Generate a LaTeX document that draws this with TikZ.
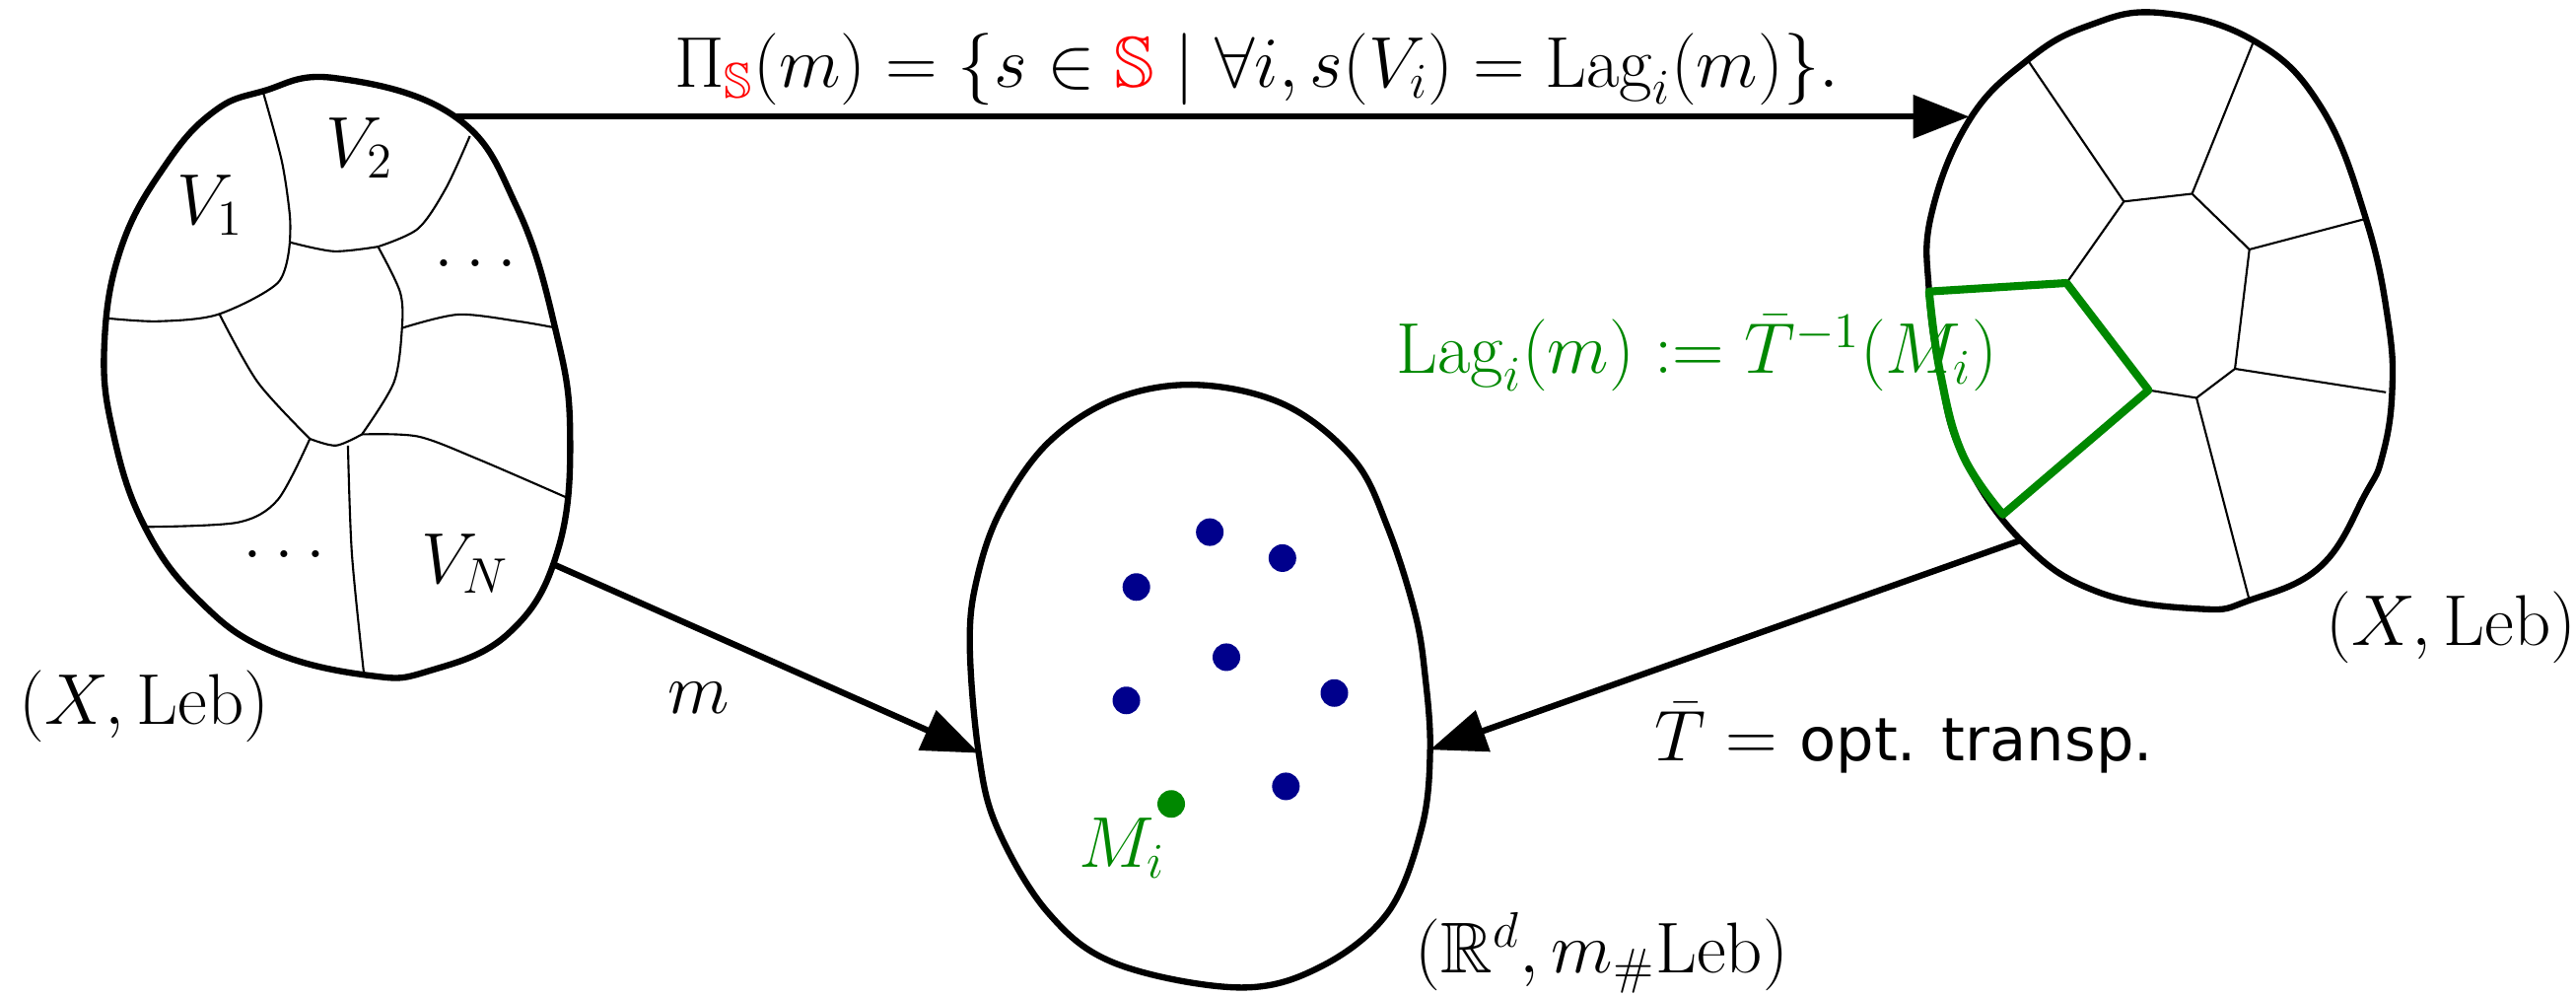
\documentclass[tikz,border=0pt]{standalone}
\usepackage{amsmath,amssymb}
\usepackage{fontspec}
\usepackage{tikz}
\usetikzlibrary{arrows.meta,positioning,calc}
\newfontfamily\sansopt{DejaVu Sans}
\definecolor{dotnavy}{RGB}{0,0,140}
\definecolor{laggreen}{RGB}{0,136,0}

\begin{document}
\begin{tikzpicture}[x=0.016665cm,y=-0.016665cm,
    every node/.style={font=\huge},
    blob/.style={line width=1.8pt},
    cell/.style={line width=0.6pt},
    lagcell/.style={line width=2.3pt,laggreen,line join=round},
    maparrow/.style={line width=1.8pt,-{Triangle[length=0.57cm,width=0.43cm]}},
    atom/.style={circle,inner sep=0pt,minimum size=0.28cm}]
    \useasboundingbox (0,0) rectangle (1568,606);

    % left domain with the cells V_i
    \draw[blob] plot[smooth cycle,tension=0.7] coordinates {(204,47.5) (277,71) (314.6,126) (338,200) (347,263) (339.5,335) (310,385) (261,408.3) (224.6,411) (164.6,396) (121.8,366) (88.5,321.3) (69,264) (63.5,210) (74,150) (101,100) (130,68) (160,55.5)};
    \draw[cell] plot[smooth] coordinates {(160,55.5) (171.5,97.9) (176.4,130.9) (176.4,147.4)};
    \draw[cell] plot[smooth] coordinates {(176.4,147.4) (203.2,152.9) (230.1,150.1)};
    \draw[cell] plot[smooth] coordinates {(230.1,150.1) (254.5,139.1) (271.5,114.4) (286,82.8)};
    \draw[cell] plot[smooth] coordinates {(176.4,147.4) (169.1,172.1) (132.5,191.4) (95.9,195.5) (64.5,193.6)};
    \draw[cell] plot[smooth] coordinates {(133.7,191.4) (156.9,232.6) (188.6,267)};
    \draw[cell] plot[smooth] coordinates {(188.6,267) (204.5,271.1) (220.3,264.3)};
    \draw[cell] plot[smooth] coordinates {(230.1,150.1) (243.5,177.6) (244.7,199.6) (239.8,232.6) (220.3,264.3)};
    \draw[cell] plot[smooth] coordinates {(244.7,199.6) (278.8,191.4) (315.4,195.5) (339,199.6)};
    \draw[cell] plot[smooth] coordinates {(220.3,264.3) (254.5,265.6) (291,279.4) (345,302.8)};
    \draw[cell] plot[smooth] coordinates {(188.6,267) (169.1,304.1) (144.7,317.9) (89.8,320.6)};
    \draw[cell] plot[smooth] coordinates {(211.8,271.1) (214.2,337.1) (221.5,410)};
    \node (V1) at (128,125) {$V_1$};
    \node (V2) at (219,90) {$V_2$};
    \node (Vdots) at (293,160) {$\dots$};
    \node (Wdots) at (177,337) {$\dots$};
    \node (VN) at (283,343) {$V_N$};
    \node (Xleft) at (88,430) {$(X,\mathrm{Leb})$};
    \coordinate (leftout) at (277,71);
    \coordinate (leftdown) at (336,343);

    % target space with the atoms M_i
    \draw[blob] plot[smooth cycle,tension=0.6] coordinates {(729,234.2) (782.7,246.6) (824.1,279.7) (844.7,321) (861.2,372.7) (867.4,410.7) (870.5,456.2) (865.4,503.7) (844.7,555.4) (803.4,588.5) (753.8,600.9) (679.4,586.4) (638,555.4) (607,503.7) (595.7,458.2) (590.3,392) (594.7,352) (609.1,310.7) (638,269.4) (679.4,242.5)};
    \foreach \px/\py in {736.4/323.8, 780.6/339.6, 691.7/357.2, 746.5/399.9, 685.6/426.2, 812.2/421.7, 782.7/478.5}
        \node[atom,fill=dotnavy] at (\px,\py) {};
    \node[atom,fill=laggreen] (Mdot) at (712.9,489.2) {};
    \node[laggreen] (Mi) at (683,516) {$M_i$};
    \node (Rd) at (975,580) {$(\mathbb{R}^d,m_\#\mathrm{Leb})$};
    \coordinate (midleft) at (595.7,458.2);
    \coordinate (midright) at (870.5,456.2);

    % right domain with the Laguerre cells
    \draw[blob] plot[smooth cycle,tension=0.7] coordinates {(1314.6,7.8) (1371.9,24.8) (1412.8,65.2) (1440.1,133.1) (1453.7,195.7) (1456,240) (1450,278) (1440.1,300) (1412.8,344.4) (1369.2,365.3) (1339.2,370.5) (1276.5,360) (1230.1,328.7) (1194.6,276.6) (1181,227) (1174.2,177.4) (1175.6,130.5) (1198.7,73.1) (1234.2,36.5) (1271,15.7)};
    \coordinate (cA) at (1292.8,122.6);
    \coordinate (cB) at (1334.3,117.9);
    \coordinate (cC) at (1369.2,151.8);
    \coordinate (cD) at (1360.4,224.4);
    \coordinate (cE) at (1337,242.1);
    \coordinate (cF) at (1307.8,237.4);
    \coordinate (cG) at (1257.9,172.2);
    \draw[cell] (cF) -- (cE) -- (cD) -- (cC) -- (cB) -- (cA) -- (cG);
    \draw[cell] (cA) -- (1234.2,36.5);
    \draw[cell] (cB) -- (1371.9,24.8);
    \draw[cell] (cC) -- (1440.1,133.1);
    \draw[cell] (cD) -- (1452.3,238.7);
    \draw[cell] (cE) -- (1369.2,365.3);
    \draw[lagcell] plot[smooth,tension=0.7] coordinates {(1219.2,313.1) (1194.6,276.6) (1181,227) (1174.2,177.4)} -- (cG) -- (cF) -- cycle;
    \node[laggreen] (Lag) at (1033,215) {$\mathrm{Lag}_i(m):=\bar{T}^{-1}(M_i)$};
    \node (Xright) at (1492,382) {$(X,\mathrm{Leb})$};
    \coordinate (rightin) at (1198.7,71);
    \coordinate (rightdown) at (1230.1,328.7);

    % maps between the spaces
    \draw[maparrow] (leftout) -- (rightin);
    \node (Pi) at (765,42) {$\Pi_{\color{red}\mathbb{S}}(m)=\{s\in{\color{red}\mathbb{S}}\mid\forall i,s(V_i)=\mathrm{Lag}_i(m)\}.$};
    \draw[maparrow] (leftdown) -- (midleft);
    \node (m) at (425,425) {$m$};
    \draw[maparrow] (rightdown) -- (midright);
    \node (Tbar) at (1159,449) {$\bar{T}=$ {\LARGE\sansopt opt. transp.}};
\end{tikzpicture}
\end{document}
